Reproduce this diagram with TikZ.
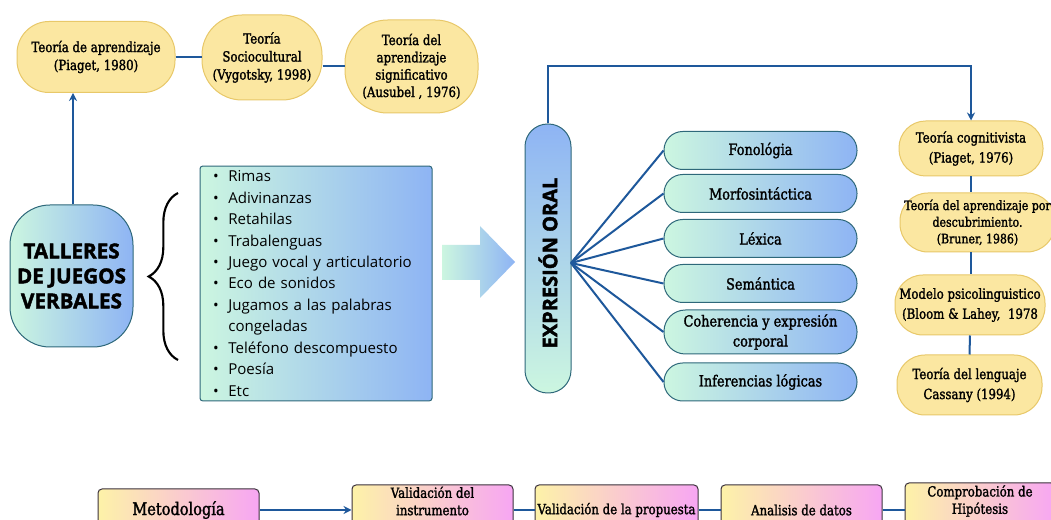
\documentclass[tikz,border=0pt]{standalone}
\usepackage{fontspec}
\setmainfont{DejaVu Serif}[FakeStretch=0.84,FakeBold=1.6]
\newfontfamily\listfont{Open Sans}
\newfontfamily\capsfont{Open Sans}[FakeBold=2]
\usetikzlibrary{arrows.meta,decorations.pathreplacing}

\definecolor{pillyel}{RGB}{251,231,161}
\definecolor{pilledge}{RGB}{232,200,105}
\definecolor{linkblue}{RGB}{30,88,155}
\definecolor{mint}{RGB}{204,246,224}
\definecolor{sky}{RGB}{142,180,244}
\definecolor{tealedge}{RGB}{46,104,122}
\definecolor{lemon}{RGB}{253,242,168}
\definecolor{orchid}{RGB}{247,166,243}
\definecolor{stageedge}{RGB}{60,50,60}

\newcommand{\itm}{\makebox[11.5pt][l]{\textbullet}}

\tikzset{every picture/.style={line width=0.75pt},
	theory/.style={draw=pilledge, fill=pillyel, align=center, inner sep=0pt, font=\fontsize{10.5}{13.5}\selectfont},
	aspect/.style={draw=tealedge, left color=mint, right color=sky, rounded corners=14pt, minimum width=144.75pt, minimum height=28.5pt, align=center, inner sep=0pt, font=\fontsize{11.5}{15}\selectfont},
	stage/.style={draw=stageedge, left color=lemon, right color=orchid, rounded corners=3pt, minimum height=37.5pt, align=center, inner sep=0pt, font=\fontsize{10.5}{13}\selectfont},
	link/.style={draw=linkblue, line width=1.5pt},
	tip/.style={-{Stealth[length=6pt,width=6pt]}},
}

\begin{document}
\begin{tikzpicture}[x=0.75pt,y=0.75pt,yscale=-1,xscale=1]
	\fill[white] (0,0) rectangle (1051,520);
	\useasboundingbox (0,0) rectangle (1051,520);
	
	%Shape: Rounded Rect -- teorias de arriba
	\node[theory, rounded corners=24pt, minimum width=118.5pt, minimum height=53.25pt] (piaget) at (96,57) {Teoría de aprendizaje\\(Piaget, 1980)};
	\node[theory, rounded corners=30pt, minimum width=90pt, minimum height=63.75pt] (vygot) at (262,57.5) {Teoría\\Sociocultural\\(Vygotsky, 1998)};
	\node[theory, rounded corners=32pt, minimum width=99.75pt, minimum height=69.75pt, font=\fontsize{10.5}{13}\selectfont] (ausubel) at (411.5,66.5) {Teoría del\\aprendizaje\\significativo\\(Ausubel , 1976)};
	%Straight Lines
	\draw[link] (piaget.east) -- (vygot.west |- piaget.east);
	\draw[link] (ausubel.west -| vygot.east) -- (ausubel.west);
	
	%Shape: Rounded Rect -- talleres
	\node[draw=tealedge, left color=mint, right color=sky, rounded corners=30pt, minimum width=92.25pt, minimum height=106.5pt, align=center, inner sep=0pt, font=\capsfont\bfseries\fontsize{15.5}{18.75}\selectfont] (talleres) at (71.5,276) {TALLERES\\DE JUEGOS\\VERBALES};
	\coordinate (up) at (73,0);
	\draw[link, tip] (talleres.north -| up) -- (piaget.south -| up);
	
	%Brace
	\draw[line width=1.6pt, decorate, decoration={brace, amplitude=22pt}] (178,360) -- (178,193);
	
	%Shape: Rectangle -- lista de juegos
	\node[draw=tealedge, left color=mint, right color=sky, rounded corners=2pt, minimum width=174pt, minimum height=174.75pt, text width=154.5pt, inner xsep=9.75pt, align=left, font=\listfont\fontsize{11.3}{16.1}\selectfont] (juegos) at (316,283.5) {\itm Rimas\\ \itm Adivinanzas\\ \itm Retahilas\\ \itm Trabalenguas\\ \itm Juego vocal y articulatorio\\ \itm Eco de sonidos\\ \itm Jugamos a las palabras\\ \hspace*{11.5pt}congeladas\\ \itm Teléfono descompuesto\\ \itm Poesía\\ \itm Etc};
	
	%Shape: Right Arrow
	\shade[left color=mint, right color=sky] (442,245) -- (480,245) -- (480,226) -- (515,262) -- (480,298) -- (480,280) -- (442,280) -- cycle;
	
	%Shape: Rounded Rect -- expresion oral
	\node[draw=tealedge, top color=sky, bottom color=mint, rounded corners=17pt, minimum width=34.5pt, minimum height=201.75pt, inner sep=0pt] (expr) at (548,258.5) {};
	\node[rotate=90, inner sep=0pt, font=\capsfont\bfseries\fontsize{15}{17}\selectfont] (exprtext) at (548,263) {EXPRESIÓN ORAL};
	\coordinate (hub) at (571,263);
	
	%Shape: Rounded Rect -- componentes
	\node[aspect] (fono) at (760.5,150.5) {Fonológia};
	\node[aspect] (morfo) at (760.5,193.5) {Morfosintáctica};
	\node[aspect] (lexica) at (760.5,238.5) {Léxica};
	\node[aspect] (seman) at (760.5,283.5) {Semántica};
	\node[aspect, minimum height=33pt, rounded corners=16pt] (coher) at (760.5,332) {Coherencia y expresión\\corporal};
	\node[aspect] (infer) at (760.5,382) {Inferencias lógicas};
	%Straight Lines
	\foreach \part in {fono,morfo,lexica,seman,coher,infer}
	\draw[link] (hub) -- (\part.west);
	
	%Shape: Rounded Rect -- teorias de la derecha
	\node[theory, rounded corners=20pt, minimum width=108pt, minimum height=41.25pt, font=\fontsize{10.5}{15}\selectfont] (cogn) at (971,148.5) {Teoría cognitivista\\(Piaget, 1976)};
	\node[theory, rounded corners=21pt, minimum width=116.25pt, minimum height=44.25pt, font=\fontsize{9.8}{12.5}\selectfont] (bruner) at (977.5,222.5) {Teoría del aprendizaje por\\descubrimiento.\\(Bruner, 1986)};
	\node[theory, rounded corners=21pt, minimum width=112.5pt, minimum height=45pt, font=\fontsize{10.5}{15}\selectfont] (bloom) at (970,305) {Modelo psicolinguistico\\(Bloom \& Lahey,\ \ 1978};
	\node[theory, rounded corners=21pt, minimum width=108.75pt, minimum height=45pt, font=\fontsize{10.5}{15}\selectfont] (cassany) at (969.5,385) {Teoría del lenguaje\\Cassany (1994)};
	%Straight Lines
	\coordinate (turn) at (cogn.north |- 0,66);
	\draw[link, tip] (expr.north) |- (turn) -- (cogn.north);
	\draw[link] (cogn.south) -- (cogn.south |- bruner.north);
	\draw[link] (cogn.south |- bruner.south) -- (cogn.south |- bloom.north);
	\draw[link] (bloom.south) -- (cassany.north);
	
	%Shape: Rectangle -- pasos de abajo
	\node[stage, minimum width=120.75pt, minimum height=31.5pt, font=\fontsize{13}{15}\selectfont] (metod) at (178.5,510) {Metodología};
	\node[stage, minimum width=120.75pt] (valinst) at (432.5,510) {};
	\node[stage, minimum width=122.25pt] (valprop) at (616.5,510) {Validación de la propuesta};
	\node[stage, minimum width=120.75pt] (analisis) at (801.5,510) {Analisis de datos};
	\node[stage, minimum width=112.5pt, minimum height=40.5pt] (comprob) at (980,510) {};
	% Text Node
	\node[align=center, inner sep=0pt, font=\fontsize{10.5}{13}\selectfont] (valinsttext) at (432.5,501) {Validación del\\instrumento};
	\node[align=center, inner sep=0pt, font=\fontsize{10.5}{13}\selectfont] (comprobtext) at (980,501) {Comprobación de\\Hipótesis};
	%Straight Lines
	\draw[link, tip] (metod.east) -- (valinst.west);
	\draw[link] (valinst.east) -- (valprop.west);
	\draw[link] (valprop.east) -- (analisis.west);
	\draw[link] (analisis.east) -- (comprob.west);
	
\end{tikzpicture}
\end{document}
